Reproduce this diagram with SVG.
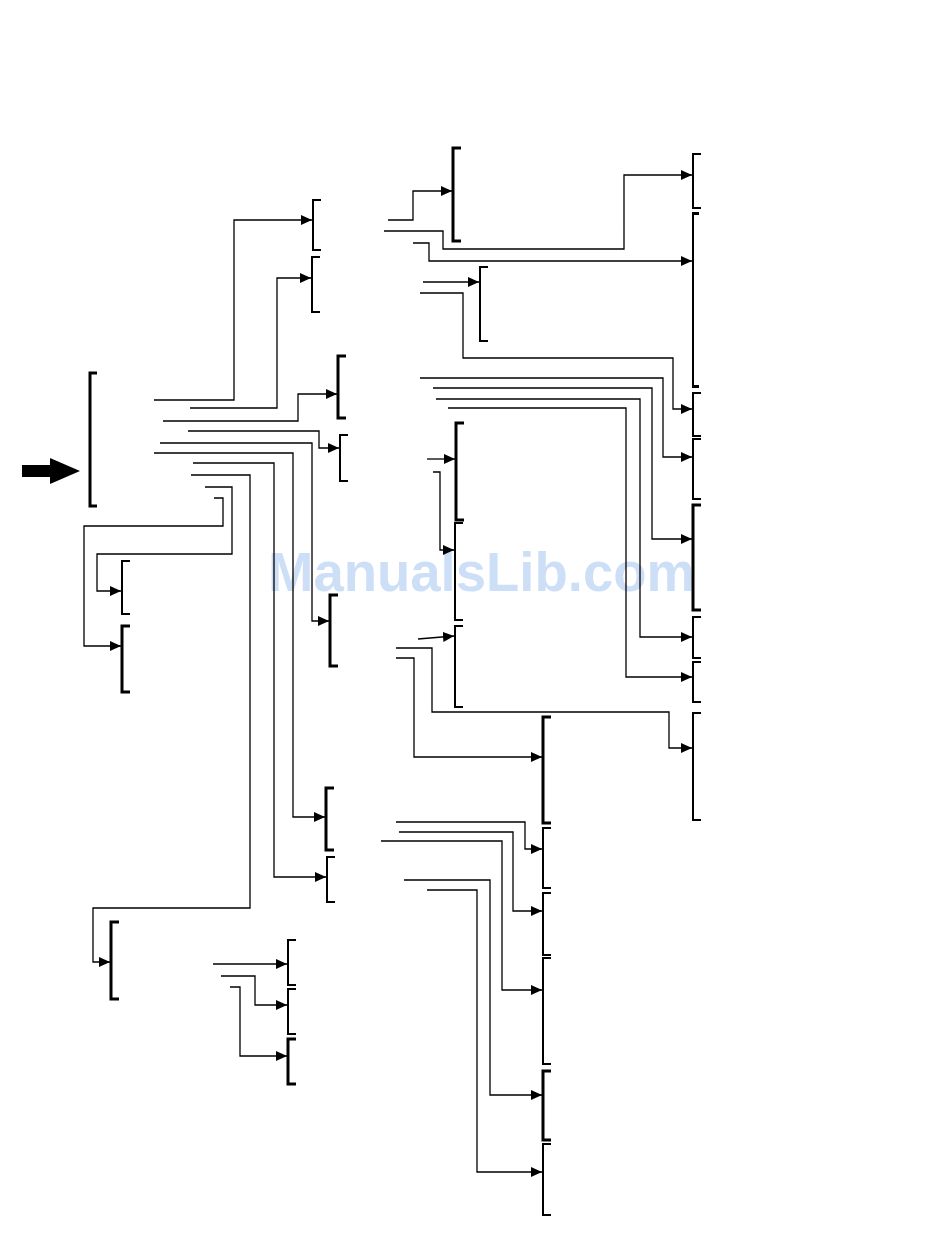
<svg xmlns="http://www.w3.org/2000/svg" width="950" height="1248" viewBox="0 0 950 1248">
<style>
.br{fill:none;stroke:#000;stroke-width:2}
.bb{fill:none;stroke:#000;stroke-width:3}
.cn{fill:none;stroke:#000;stroke-width:1.3}
.wm{font-family:"Liberation Sans",Arial,sans-serif;font-weight:bold;font-size:55px;fill:#cddff7}
</style>
<defs>
<marker id="ah" markerUnits="userSpaceOnUse" markerWidth="11" markerHeight="10" refX="11" refY="5" orient="auto">
<path d="M0,0 L11,5 L0,10 z" fill="#000"/>
</marker>
</defs>
<rect width="950" height="1248" fill="#fff"/>
<text class="wm" x="268" y="591" textLength="427" lengthAdjust="spacingAndGlyphs">ManualsLib.com</text>
<g id="input-arrow"><polygon points="22,465 50,465 50,458 80,471 50,484 50,477 22,477" fill="#000"/></g>
<g id="nodes">
<g id="n-main"><path class="bb" d="M97,373 H90 V506 H97"/></g>
<g id="n-b1"><path class="br" d="M321,200 H313 V250 H321"/></g>
<g id="n-b2"><path class="br" d="M320,257 H312 V312 H320"/></g>
<g id="n-b3"><path class="bb" d="M346,356 H338 V418 H346"/></g>
<g id="n-b4"><path class="br" d="M348,435 H340 V481 H348"/></g>
<g id="n-b5"><path class="bb" d="M338,595 H330 V666 H338"/></g>
<g id="n-b6"><path class="bb" d="M334,788 H326 V850 H334"/></g>
<g id="n-b7"><path class="br" d="M335,857 H327 V902 H335"/></g>
<g id="n-b8"><path class="bb" d="M119,922 H111 V999 H119"/></g>
<g id="n-b9"><path class="br" d="M130,561 H122 V614 H130"/></g>
<g id="n-b10"><path class="bb" d="M130,626 H122 V692 H130"/></g>
<g id="n-c1"><path class="br" d="M296,940 H288 V985 H296"/></g>
<g id="n-c2"><path class="br" d="M296,989 H288 V1034 H296"/></g>
<g id="n-c3"><path class="bb" d="M296,1039 H288 V1084 H296"/></g>
<g id="n-d1"><path class="bb" d="M461,148 H453 V241 H461"/></g>
<g id="n-d2"><path class="br" d="M488,267 H480 V341 H488"/></g>
<g id="n-d3"><path class="bb" d="M464,423 H456 V520 H464"/></g>
<g id="n-d4"><path class="br" d="M463,523 H455 V620 H463"/></g>
<g id="n-d5"><path class="br" d="M463,626 H455 V707 H463"/></g>
<g id="n-e1"><path class="br" d="M701,154 H693 V208 H701"/></g>
<g id="n-e2"><path class="br" d="M693,213 V387"/><rect x="692" y="212" width="7" height="3"/><rect x="692" y="385" width="7" height="3"/></g>
<g id="n-e3"><path class="br" d="M701,393 H693 V436 H701"/></g>
<g id="n-e4"><path class="br" d="M701,439 H693 V499 H701"/></g>
<g id="n-e5"><path class="bb" d="M701,505 H693 V610 H701"/></g>
<g id="n-e6"><path class="br" d="M701,617 H693 V658 H701"/></g>
<g id="n-e7"><path class="br" d="M701,662 H693 V702 H701"/></g>
<g id="n-e8"><path class="br" d="M701,713 H693 V820 H701"/></g>
<g id="n-f1"><path class="bb" d="M551,717 H543 V823 H551"/></g>
<g id="n-f2"><path class="br" d="M551,828 H543 V888 H551"/></g>
<g id="n-f3"><path class="br" d="M551,893 H543 V955 H551"/></g>
<g id="n-f4"><path class="br" d="M551,958 H543 V1064 H551"/></g>
<g id="n-f5"><path class="bb" d="M551,1071 H543 V1140 H551"/></g>
<g id="n-f6"><path class="br" d="M551,1144 H543 V1215 H551"/></g>
</g>
<g id="connectors">
<polyline class="cn" marker-end="url(#ah)" points="154,400 234,400 234,220 312,220"/>
<polyline class="cn" marker-end="url(#ah)" points="190,408 277,408 277,278 311,278"/>
<polyline class="cn" marker-end="url(#ah)" points="163,421 298,421 298,394 337,394"/>
<polyline class="cn" marker-end="url(#ah)" points="188,431 319,431 319,448 339,448"/>
<polyline class="cn" marker-end="url(#ah)" points="160,443 312,443 312,621 329,621"/>
<polyline class="cn" marker-end="url(#ah)" points="154,453 293,453 293,817 325,817"/>
<polyline class="cn" marker-end="url(#ah)" points="193,463 274,463 274,877 326,877"/>
<polyline class="cn" marker-end="url(#ah)" points="191,475 250,475 250,908 93,908 93,962 110,962"/>
<polyline class="cn" marker-end="url(#ah)" points="205,487 232,487 232,554 97,554 97,591 121,591"/>
<polyline class="cn" marker-end="url(#ah)" points="214,498 223,498 223,526 84,526 84,646 121,646"/>
<polyline class="cn" marker-end="url(#ah)" points="213,964 287,964"/>
<polyline class="cn" marker-end="url(#ah)" points="221,976 255,976 255,1005 287,1005"/>
<polyline class="cn" marker-end="url(#ah)" points="230,987 240,987 240,1056 287,1056"/>
<polyline class="cn" marker-end="url(#ah)" points="388,220 413,220 413,191 452,191"/>
<polyline class="cn" marker-end="url(#ah)" points="384,231 443,231 443,249 624,249 624,175 692,175"/>
<polyline class="cn" marker-end="url(#ah)" points="413,243 429,243 429,261 692,261"/>
<polyline class="cn" marker-end="url(#ah)" points="423,282 479,282"/>
<polyline class="cn" marker-end="url(#ah)" points="420,293 463,293 463,358 673,358 673,409 692,409"/>
<polyline class="cn" marker-end="url(#ah)" points="420,378 663,378 663,457 692,457"/>
<polyline class="cn" marker-end="url(#ah)" points="433,388 652,388 652,539 692,539"/>
<polyline class="cn" marker-end="url(#ah)" points="436,399 640,399 640,637 692,637"/>
<polyline class="cn" marker-end="url(#ah)" points="448,408 626,408 626,677 692,677"/>
<polyline class="cn" marker-end="url(#ah)" points="427,459 455,459"/>
<polyline class="cn" marker-end="url(#ah)" points="433,472 440,472 440,550 454,550"/>
<polyline class="cn" marker-end="url(#ah)" points="418,639 454,636"/>
<polyline class="cn" marker-end="url(#ah)" points="396,648 432,648 432,712 669,712 669,748 692,748"/>
<polyline class="cn" marker-end="url(#ah)" points="396,658 414,658 414,757 542,757"/>
<polyline class="cn" marker-end="url(#ah)" points="396,822 525,822 525,849 542,849"/>
<polyline class="cn" marker-end="url(#ah)" points="399,832 513,832 513,911 542,911"/>
<polyline class="cn" marker-end="url(#ah)" points="381,841 502,841 502,990 542,990"/>
<polyline class="cn" marker-end="url(#ah)" points="404,880 490,880 490,1095 542,1095"/>
<polyline class="cn" marker-end="url(#ah)" points="427,890 477,890 477,1172 542,1172"/>
</g>
</svg>
